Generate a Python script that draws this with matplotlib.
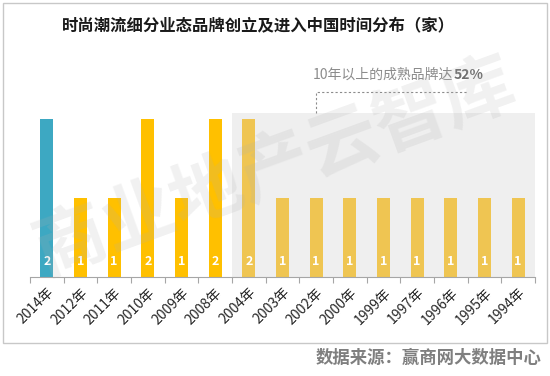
import matplotlib
matplotlib.use("Agg")
import matplotlib.pyplot as plt
from matplotlib.patches import Rectangle

plt.rcParams['font.family'] = ['Noto Sans CJK SC', 'DejaVu Sans']

years = ["2014年", "2012年", "2011年", "2010年", "2009年", "2008年", "2004年",
         "2003年", "2002年", "2000年", "1999年", "1997年", "1996年", "1995年", "1994年"]
counts = [2, 1, 1, 2, 1, 2, 2, 1, 1, 1, 1, 1, 1, 1, 1]
mature_start = 6  # index of first brand older than 10 years

title = "时尚潮流细分业态品牌创立及进入中国时间分布（家）"
note = "10年以上的成熟品牌达"
note_pct = "52%"
source = "数据来源：赢商网大数据中心"
watermark = "商业地产云智库"

fig = plt.figure(figsize=(5.5, 3.76), dpi=100)
ax = fig.add_axes([30/550, 99/376, 505/550, 237/376])

# outer frame
fig.patches.append(Rectangle((3/550, 1 - 343/376), 544/550, 340/376, transform=fig.transFigure,
                             fill=False, edgecolor="#c8c8c8", linewidth=1))

colors = []
for i in range(len(years)):
    if i == 0:
        colors.append("#3da8c2")
    elif i < mature_start:
        colors.append("#ffc000")
    else:
        colors.append("#efc552")

x = list(range(len(years)))
ax.bar(x, counts, width=0.39, color=colors, zorder=2)

# shaded area for mature brands
ax.add_patch(Rectangle((mature_start - 0.5, 0), len(years) - mature_start, 2.076,
                       facecolor="#efefef", edgecolor="none", zorder=1))

for xi, v in zip(x, counts):
    ax.text(xi, 0.19, str(v), ha="center", va="center", color="white",
            fontsize=9, fontweight="bold", zorder=3)

ax.set_xlim(-0.5, len(years) - 0.5)
ax.set_ylim(0, 3)
ax.set_yticks([])
for s in ["top", "right", "left"]:
    ax.spines[s].set_visible(False)
ax.spines["bottom"].set_color("#a6a6a6")
ax.set_xticks([i - 0.5 for i in range(len(years) + 1)])
ax.set_xticklabels([])
ax.set_xticks(x, minor=True)
ax.set_xticklabels(years, minor=True, rotation=45, ha="right", va="top",
                   rotation_mode="anchor", fontsize=10, color="#262626")
ax.tick_params(axis="x", which="major", length=4, color="#a6a6a6")
ax.tick_params(axis="x", which="minor", length=0, pad=6)

# dashed bracket and note
ax.plot([8, 8, 12.5], [2.076, 2.34, 2.34], linestyle=(0, (2, 2)), color="#8c8c8c",
        linewidth=0.8, zorder=3, clip_on=False)
t1 = ax.text(7.9, 2.56, note, ha="left", va="center", fontsize=10, color="#8c8c8c")
fig.canvas.draw()
bb = t1.get_window_extent()
fig.text(bb.x1 / fig.dpi / 5.5, (bb.y0 + bb.y1) / 2 / fig.dpi / 3.76, note_pct,
         ha="left", va="center", fontsize=10, fontweight="bold", color="#6e6e6e")

fig.text(258/550, 1 - 25/376, title, ha="center", va="center", fontsize=11.8, fontweight="bold",
         color="#1a1a1a")

fig.text(541/550, 1 - 358/376, source, ha="right", va="center", fontsize=12.5,
         fontweight="bold", color="#7f7f7f")

fig.text(275/550, 1 - 168/376, watermark, ha="center", va="center", fontsize=52,
         fontweight="bold", color="#b0b0b0", alpha=0.18, rotation=20, zorder=5)

fig.savefig("out.png", dpi=100)
